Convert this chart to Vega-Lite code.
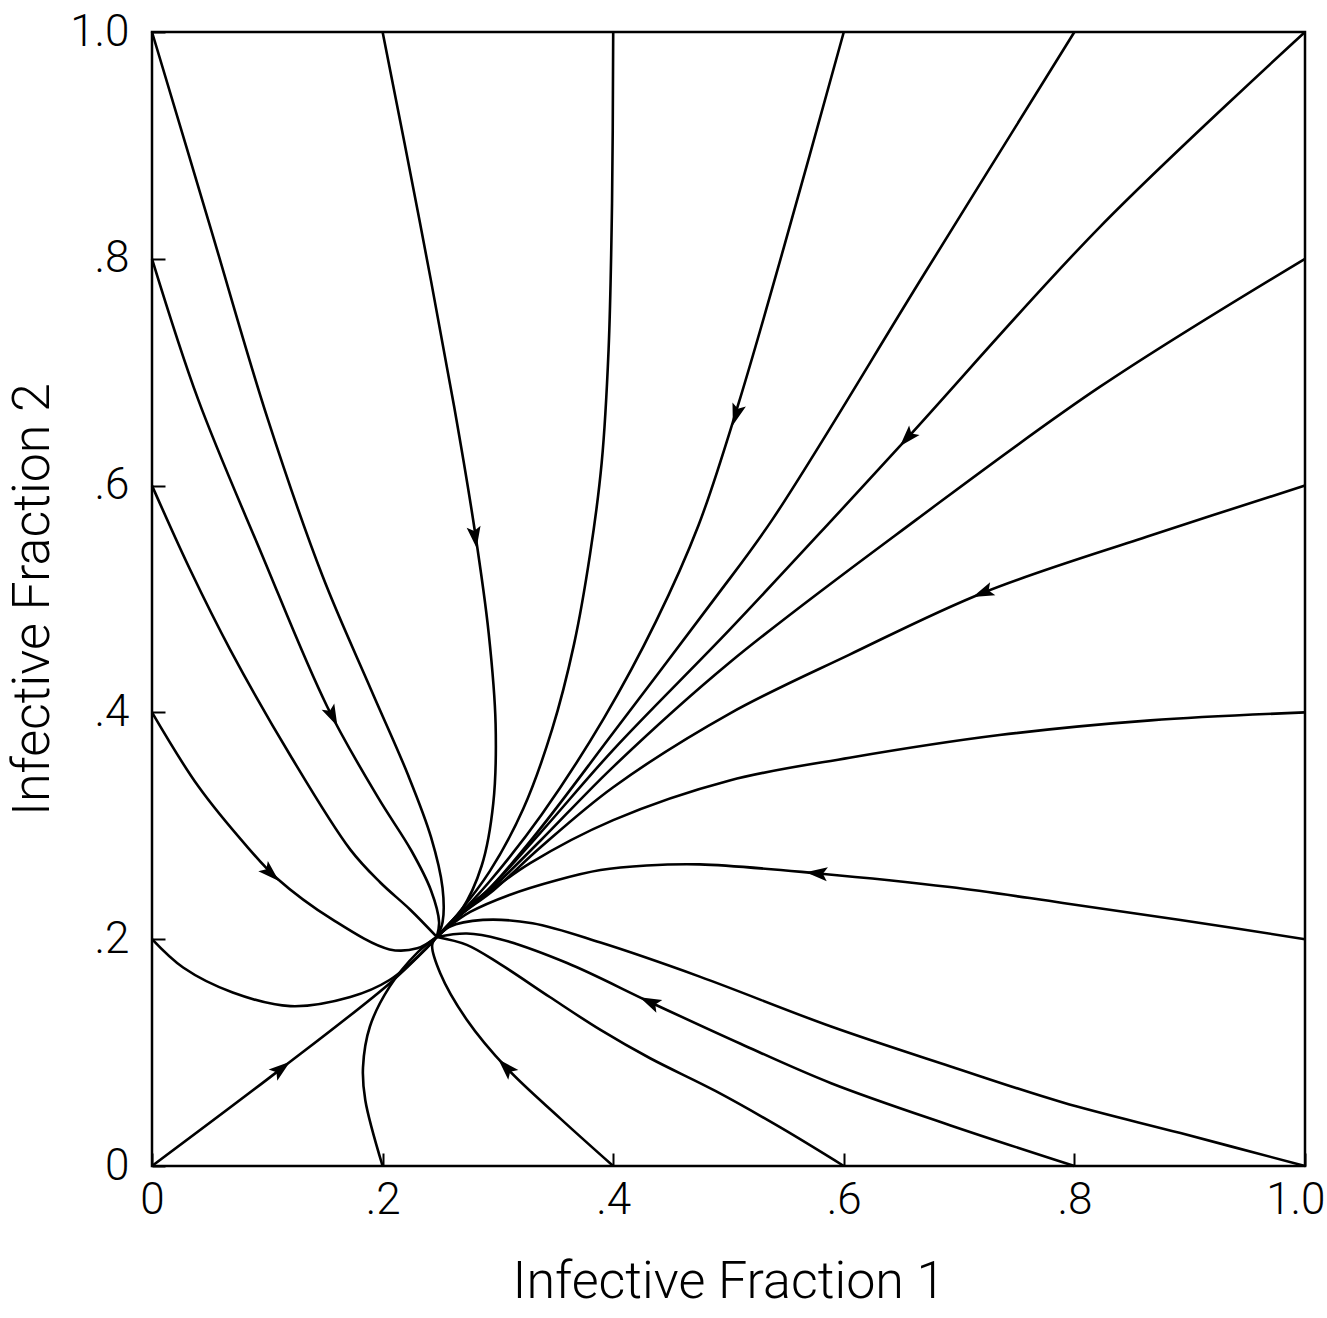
{
  "$schema": "https://vega.github.io/schema/vega-lite/v6.json",
  "width": 1153,
  "height": 1134,
  "autosize": {"type": "none"},
  "padding": {"left": 152, "top": 32, "right": 22, "bottom": 152},
  "background": "white",
  "config": {
    "view": {"stroke": "black", "strokeWidth": 2.5},
    "axis": {
      "grid": false,
      "domain": false,
      "ticks": true,
      "tickColor": "black",
      "tickWidth": 2,
      "tickSize": -13,
      "labelColor": "black",
      "labelFont": "Roboto",
      "labelFontWeight": 300,
      "labelFontSize": 44,
      "labelFlush": false,
      "labelOverlap": false,
      "labelBound": false,
      "titleColor": "black",
      "titleFont": "Roboto",
      "titleFontWeight": 300,
      "titleFontSize": 52
    }
  },
  "datasets": {
    "paths": [
      {"t":"T1","i":0,"x":0,"y":1.0},{"t":"T1","i":1,"x":0.05,"y":0.83},{"t":"T1","i":2,"x":0.10,"y":0.66},{"t":"T1","i":3,"x":0.148,"y":0.52},{"t":"T1","i":4,"x":0.19,"y":0.42},{"t":"T1","i":5,"x":0.222,"y":0.345},{"t":"T1","i":6,"x":0.242,"y":0.29},{"t":"T1","i":7,"x":0.252,"y":0.245},{"t":"T1","i":8,"x":0.252,"y":0.215},{"t":"T1","i":9,"x":0.247,"y":0.202},
      {"t":"T2","i":0,"x":0,"y":0.8},{"t":"T2","i":1,"x":0.04,"y":0.676},{"t":"T2","i":2,"x":0.095,"y":0.54},{"t":"T2","i":3,"x":0.152,"y":0.405},{"t":"T2","i":4,"x":0.196,"y":0.325},{"t":"T2","i":5,"x":0.225,"y":0.278},{"t":"T2","i":6,"x":0.242,"y":0.243},{"t":"T2","i":7,"x":0.249,"y":0.215},{"t":"T2","i":8,"x":0.247,"y":0.202},
      {"t":"T3","i":0,"x":0,"y":0.6},{"t":"T3","i":1,"x":0.033,"y":0.526},{"t":"T3","i":2,"x":0.068,"y":0.455},{"t":"T3","i":3,"x":0.120,"y":0.362},{"t":"T3","i":4,"x":0.172,"y":0.279},{"t":"T3","i":5,"x":0.198,"y":0.250},{"t":"T3","i":6,"x":0.224,"y":0.226},{"t":"T3","i":7,"x":0.247,"y":0.202},
      {"t":"T4","i":0,"x":0,"y":0.4},{"t":"T4","i":1,"x":0.04,"y":0.335},{"t":"T4","i":2,"x":0.083,"y":0.281},{"t":"T4","i":3,"x":0.108,"y":0.254},{"t":"T4","i":4,"x":0.157,"y":0.217},{"t":"T4","i":5,"x":0.206,"y":0.191},{"t":"T4","i":6,"x":0.230,"y":0.192},{"t":"T4","i":7,"x":0.247,"y":0.202},
      {"t":"T5","i":0,"x":0,"y":0.2},{"t":"T5","i":1,"x":0.027,"y":0.175},{"t":"T5","i":2,"x":0.070,"y":0.153},{"t":"T5","i":3,"x":0.120,"y":0.141},{"t":"T5","i":4,"x":0.172,"y":0.149},{"t":"T5","i":5,"x":0.206,"y":0.164},{"t":"T5","i":6,"x":0.239,"y":0.193},{"t":"T5","i":7,"x":0.247,"y":0.202},
      {"t":"T6","i":0,"x":0,"y":0},{"t":"T6","i":1,"x":0.111,"y":0.085},{"t":"T6","i":2,"x":0.206,"y":0.161},{"t":"T6","i":3,"x":0.239,"y":0.193},{"t":"T6","i":4,"x":0.247,"y":0.202},
      {"t":"T7","i":0,"x":0.2,"y":0},{"t":"T7","i":1,"x":0.185,"y":0.058},{"t":"T7","i":2,"x":0.183,"y":0.087},{"t":"T7","i":3,"x":0.189,"y":0.123},{"t":"T7","i":4,"x":0.206,"y":0.158},{"t":"T7","i":5,"x":0.230,"y":0.188},{"t":"T7","i":6,"x":0.247,"y":0.202},
      {"t":"T8","i":0,"x":0.4,"y":0},{"t":"T8","i":1,"x":0.354,"y":0.042},{"t":"T8","i":2,"x":0.308,"y":0.086},{"t":"T8","i":3,"x":0.273,"y":0.129},{"t":"T8","i":4,"x":0.250,"y":0.170},{"t":"T8","i":5,"x":0.243,"y":0.195},{"t":"T8","i":6,"x":0.247,"y":0.202},
      {"t":"T9","i":0,"x":0.6,"y":0},{"t":"T9","i":1,"x":0.545,"y":0.034},{"t":"T9","i":2,"x":0.489,"y":0.066},{"t":"T9","i":3,"x":0.432,"y":0.095},{"t":"T9","i":4,"x":0.389,"y":0.120},{"t":"T9","i":5,"x":0.345,"y":0.149},{"t":"T9","i":6,"x":0.302,"y":0.178},{"t":"T9","i":7,"x":0.273,"y":0.195},{"t":"T9","i":8,"x":0.247,"y":0.202},
      {"t":"T10","i":0,"x":0.8,"y":0},{"t":"T10","i":1,"x":0.692,"y":0.036},{"t":"T10","i":2,"x":0.589,"y":0.073},{"t":"T10","i":3,"x":0.510,"y":0.108},{"t":"T10","i":4,"x":0.433,"y":0.144},{"t":"T10","i":5,"x":0.360,"y":0.179},{"t":"T10","i":6,"x":0.302,"y":0.200},{"t":"T10","i":7,"x":0.273,"y":0.205},{"t":"T10","i":8,"x":0.247,"y":0.202},
      {"t":"T11","i":0,"x":1,"y":0},{"t":"T11","i":1,"x":0.892,"y":0.029},{"t":"T11","i":2,"x":0.790,"y":0.056},{"t":"T11","i":3,"x":0.692,"y":0.088},{"t":"T11","i":4,"x":0.589,"y":0.123},{"t":"T11","i":5,"x":0.475,"y":0.167},{"t":"T11","i":6,"x":0.389,"y":0.197},{"t":"T11","i":7,"x":0.330,"y":0.214},{"t":"T11","i":8,"x":0.287,"y":0.217},{"t":"T11","i":9,"x":0.258,"y":0.211},{"t":"T11","i":10,"x":0.247,"y":0.202},
      {"t":"T12","i":0,"x":1,"y":0.2},{"t":"T12","i":1,"x":0.892,"y":0.217},{"t":"T12","i":2,"x":0.790,"y":0.232},{"t":"T12","i":3,"x":0.692,"y":0.246},{"t":"T12","i":4,"x":0.578,"y":0.258},{"t":"T12","i":5,"x":0.475,"y":0.266},{"t":"T12","i":6,"x":0.429,"y":0.265},{"t":"T12","i":7,"x":0.389,"y":0.261},{"t":"T12","i":8,"x":0.351,"y":0.252},{"t":"T12","i":9,"x":0.310,"y":0.239},{"t":"T12","i":10,"x":0.276,"y":0.224},{"t":"T12","i":11,"x":0.256,"y":0.210},{"t":"T12","i":12,"x":0.247,"y":0.202},
      {"t":"T13","i":0,"x":1,"y":0.4},{"t":"T13","i":1,"x":0.866,"y":0.393},{"t":"T13","i":2,"x":0.735,"y":0.380},{"t":"T13","i":3,"x":0.605,"y":0.360},{"t":"T13","i":4,"x":0.501,"y":0.340},{"t":"T13","i":5,"x":0.400,"y":0.305},{"t":"T13","i":6,"x":0.328,"y":0.267},{"t":"T13","i":7,"x":0.284,"y":0.235},{"t":"T13","i":8,"x":0.267,"y":0.221},{"t":"T13","i":9,"x":0.247,"y":0.202},
      {"t":"T14","i":0,"x":1,"y":0.6},{"t":"T14","i":1,"x":0.866,"y":0.556},{"t":"T14","i":2,"x":0.722,"y":0.506},{"t":"T14","i":3,"x":0.605,"y":0.451},{"t":"T14","i":4,"x":0.501,"y":0.399},{"t":"T14","i":5,"x":0.400,"y":0.334},{"t":"T14","i":6,"x":0.337,"y":0.281},{"t":"T14","i":7,"x":0.296,"y":0.243},{"t":"T14","i":8,"x":0.267,"y":0.221},{"t":"T14","i":9,"x":0.247,"y":0.202},
      {"t":"T15","i":0,"x":1,"y":0.8},{"t":"T15","i":1,"x":0.822,"y":0.687},{"t":"T15","i":2,"x":0.663,"y":0.570},{"t":"T15","i":3,"x":0.501,"y":0.444},{"t":"T15","i":4,"x":0.400,"y":0.352},{"t":"T15","i":5,"x":0.337,"y":0.287},{"t":"T15","i":6,"x":0.293,"y":0.243},{"t":"T15","i":7,"x":0.267,"y":0.221},{"t":"T15","i":8,"x":0.247,"y":0.202},
      {"t":"T16","i":0,"x":1,"y":1},{"t":"T16","i":1,"x":0.822,"y":0.828},{"t":"T16","i":2,"x":0.656,"y":0.643},{"t":"T16","i":3,"x":0.590,"y":0.570},{"t":"T16","i":4,"x":0.501,"y":0.473},{"t":"T16","i":5,"x":0.400,"y":0.367},{"t":"T16","i":6,"x":0.337,"y":0.294},{"t":"T16","i":7,"x":0.291,"y":0.243},{"t":"T16","i":8,"x":0.267,"y":0.223},{"t":"T16","i":9,"x":0.247,"y":0.202},
      {"t":"T17","i":0,"x":0.8,"y":1},{"t":"T17","i":1,"x":0.670,"y":0.787},{"t":"T17","i":2,"x":0.538,"y":0.570},{"t":"T17","i":3,"x":0.487,"y":0.499},{"t":"T17","i":4,"x":0.400,"y":0.382},{"t":"T17","i":5,"x":0.334,"y":0.294},{"t":"T17","i":6,"x":0.291,"y":0.243},{"t":"T17","i":7,"x":0.267,"y":0.223},{"t":"T17","i":8,"x":0.247,"y":0.202},
      {"t":"T18","i":0,"x":0.6,"y":1},{"t":"T18","i":1,"x":0.548,"y":0.81},{"t":"T18","i":2,"x":0.508,"y":0.67},{"t":"T18","i":3,"x":0.474,"y":0.565},{"t":"T18","i":4,"x":0.437,"y":0.48},{"t":"T18","i":5,"x":0.392,"y":0.395},{"t":"T18","i":6,"x":0.338,"y":0.31},{"t":"T18","i":7,"x":0.292,"y":0.25},{"t":"T18","i":8,"x":0.262,"y":0.217},{"t":"T18","i":9,"x":0.247,"y":0.202},
      {"t":"T19","i":0,"x":0.4,"y":1},{"t":"T19","i":1,"x":0.399,"y":0.85},{"t":"T19","i":2,"x":0.396,"y":0.72},{"t":"T19","i":3,"x":0.390,"y":0.62},{"t":"T19","i":4,"x":0.380,"y":0.54},{"t":"T19","i":5,"x":0.366,"y":0.46},{"t":"T19","i":6,"x":0.347,"y":0.385},{"t":"T19","i":7,"x":0.322,"y":0.315},{"t":"T19","i":8,"x":0.293,"y":0.26},{"t":"T19","i":9,"x":0.265,"y":0.222},{"t":"T19","i":10,"x":0.247,"y":0.202},
      {"t":"T20","i":0,"x":0.2,"y":1},{"t":"T20","i":1,"x":0.232,"y":0.834},{"t":"T20","i":2,"x":0.262,"y":0.67},{"t":"T20","i":3,"x":0.28,"y":0.56},{"t":"T20","i":4,"x":0.292,"y":0.47},{"t":"T20","i":5,"x":0.298,"y":0.39},{"t":"T20","i":6,"x":0.296,"y":0.32},{"t":"T20","i":7,"x":0.286,"y":0.265},{"t":"T20","i":8,"x":0.268,"y":0.225},{"t":"T20","i":9,"x":0.247,"y":0.202}
    ],
    "arrows": [
      {"x":0.507,"y":0.664,"heading":197},
      {"x":0.656,"y":0.643,"heading":222},
      {"x":0.722,"y":0.506,"heading":248},
      {"x":0.280,"y":0.556,"heading":172},
      {"x":0.156,"y":0.398,"heading":154},
      {"x":0.102,"y":0.259,"heading":133},
      {"x":0.111,"y":0.085,"heading":52},
      {"x":0.308,"y":0.086,"heading":316},
      {"x":0.433,"y":0.144,"heading":295},
      {"x":0.578,"y":0.258,"heading":275}
    ]
  },
  "encoding": {
    "x": {
      "field": "x", "type": "quantitative",
      "scale": {"domain": [0, 1], "nice": false, "zero": false},
      "axis": {
        "values": [0, 0.2, 0.4, 0.6, 0.8, 1],
        "labelExpr": "datum.value === 0 ? '0' : datum.value === 1 ? '1.0' : '.' + round(datum.value * 10)",
        "labelPadding": 25,
        "labelAlign": {"condition": {"test": "datum.value === 1", "value": "right"}, "value": "center"},
        "labelOffset": {"condition": {"test": "datum.value === 1", "value": 20}, "value": 0},
        "title": "Infective Fraction 1",
        "titlePadding": 34
      }
    },
    "y": {
      "field": "y", "type": "quantitative",
      "scale": {"domain": [0, 1], "nice": false, "zero": false},
      "axis": {
        "values": [0, 0.2, 0.4, 0.6, 0.8, 1],
        "labelExpr": "datum.value === 0 ? '0' : datum.value === 1 ? '1.0' : '.' + round(datum.value * 10)",
        "labelPadding": 36,
        "title": "Infective Fraction 2",
        "titlePadding": 10
      }
    }
  },
  "layer": [
    {
      "data": {"name": "paths"},
      "mark": {"type": "line", "color": "black", "strokeWidth": 2.6, "interpolate": "catmull-rom"},
      "encoding": {
        "detail": {"field": "t", "type": "nominal"},
        "order": {"field": "i", "type": "quantitative"}
      }
    },
    {
      "data": {"name": "arrows"},
      "mark": {"type": "point", "filled": true, "color": "black", "opacity": 1, "shape": "M0,-1L0.55,0.7L0,0.35L-0.55,0.7Z", "size": 650, "strokeWidth": 0},
      "encoding": {
        "angle": {"field": "heading", "type": "quantitative", "scale": null}
      }
    }
  ]
}
